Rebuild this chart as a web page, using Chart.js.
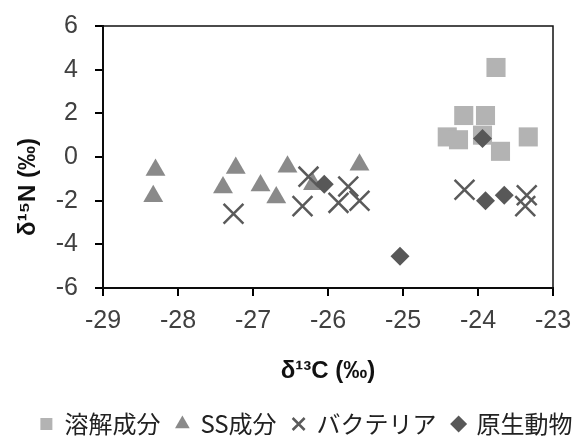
<!DOCTYPE html>
<html>
<head>
<meta charset="utf-8">
<script src="https://cdn.jsdelivr.net/npm/chart.js@4"></script>
<style>
    html, body { margin: 0; padding: 0; background: #fff; }
    #wrap { width: 575px; height: 436px; }
</style>
</head>
<body>
<div id="wrap"><canvas id="chart"></canvas></div>
<script>
// legend labels
const seriesNames = ["溶解成分", "SS成分", "バクテリア", "原生動物"];

// δ13C / δ15N pairs
const dissolvedX = [-23.76, -24.19, -23.90, -24.41, -24.26, -23.94, -23.70, -23.33];
const dissolvedY = [4.1, 1.9, 1.9, 0.92, 0.79, 1.0, 0.26, 0.92];

const ssX = [-28.30, -28.33, -27.23, -27.40, -26.90, -26.69, -26.54, -26.20, -25.58];
const ssY = [-0.6, -1.8, -0.5, -1.4, -1.3, -1.85, -0.45, -1.25, -0.35];

const bacteriaX = [-27.26, -26.26, -26.34, -25.86, -25.73, -25.58, -24.18, -23.35, -23.37];
const bacteriaY = [-2.6, -0.9, -2.25, -2.1, -1.35, -2.0, -1.5, -1.75, -2.25];

const protozoaX = [-26.05, -25.04, -23.94, -23.90, -23.65];
const protozoaY = [-1.25, -4.55, 0.85, -2.0, -1.75];

const xMin = -29, xMax = -23, yMin = -6, yMax = 6;

function pairs(xs, ys) {
    return xs.map((x, i) => ({ x: x, y: ys[i] }));
}

// box round the plot area (top and right edges)
const frame = {
    id: 'frame',
    afterDraw(chart) {
        const a = chart.chartArea;
        const ctx = chart.ctx;
        ctx.save();
        ctx.strokeStyle = '#111';
        ctx.lineWidth = 1.5;
        ctx.strokeRect(a.left, a.top, a.right - a.left, a.bottom - a.top);
        ctx.restore();
    }
};

// move the legend a bit right and down, like the original
const legendShift = {
    id: 'legendShift',
    afterLayout(chart) {
        const lg = chart.legend;
        lg.left += 19;
        lg.right += 19;
        lg.top += 10;
        lg.bottom += 10;
    }
};

const tickFont = { family: "'Liberation Sans', Arial, sans-serif", size: 25 };
const titleFont = { family: "'Liberation Sans', Arial, sans-serif", size: 24, weight: 'bold' };

new Chart(document.getElementById('chart'), {
    type: 'scatter',
    data: {
        datasets: [
            {
                label: seriesNames[0],
                data: pairs(dissolvedX, dissolvedY),
                pointStyle: 'rect',
                pointRadius: 13.5,
                backgroundColor: '#b3b3b3',
                borderColor: '#b3b3b3',
                borderWidth: 0,
                order: 4
            },
            {
                label: seriesNames[1],
                data: pairs(ssX, ssY),
                pointStyle: 'triangle',
                pointRadius: 11.5,
                backgroundColor: '#8a8a8a',
                borderColor: '#8a8a8a',
                borderWidth: 0,
                order: 3
            },
            {
                label: seriesNames[2],
                data: pairs(bacteriaX, bacteriaY),
                pointStyle: 'crossRot',
                pointRadius: 14,
                backgroundColor: '#5a5a5a',
                borderColor: '#5a5a5a',
                borderWidth: 2.5,
                order: 2
            },
            {
                label: seriesNames[3],
                data: pairs(protozoaX, protozoaY),
                pointStyle: 'rectRot',
                pointRadius: 9.5,
                backgroundColor: '#585858',
                borderColor: '#585858',
                borderWidth: 0,
                order: 1
            }
        ]
    },
    options: {
        responsive: true,
        maintainAspectRatio: false,
        animation: false,
        layout: { padding: { top: 26, right: 0, left: 0, bottom: 0 } },
        plugins: {
            tooltip: { enabled: false },
            legend: {
                position: 'bottom',
                labels: {
                    usePointStyle: true,
                    boxWidth: 12,
                    boxHeight: 12,
                    padding: 16,
                    color: '#222',
                    font: { family: "'Noto Sans CJK JP', sans-serif", size: 24 },
                    sort: (a, b) => a.datasetIndex - b.datasetIndex
                }
            }
        },
        scales: {
            x: {
                type: 'linear',
                min: xMin,
                max: xMax,
                afterFit(s) {
                    s.height = 98;
                    s.paddingLeft = 0;
                    s.paddingRight = 22;
                },
                border: { display: true, color: '#000', width: 2 },
                grid: { display: true, drawOnChartArea: false, drawTicks: true, tickLength: 8, color: '#000', lineWidth: 2 },
                ticks: { stepSize: 1, padding: 10, color: '#404040', font: tickFont, maxRotation: 0 },
                title: { display: true, text: 'δ¹³C (‰)', color: '#111', font: titleFont, padding: { top: 0, bottom: 0 } }
            },
            y: {
                type: 'linear',
                min: yMin,
                max: yMax,
                afterFit(s) {
                    s.width = 103;
                    s.paddingTop = 0;
                    s.paddingBottom = 0;
                },
                border: { display: true, color: '#000', width: 2 },
                grid: { display: true, drawOnChartArea: false, drawTicks: true, tickLength: 8, color: '#000', lineWidth: 2 },
                ticks: { stepSize: 2, padding: 17, color: '#404040', font: tickFont },
                // trailing spaces push the title down, as in the original
                title: { display: true, text: 'δ¹⁵N (‰)         ', color: '#111', font: titleFont, padding: { top: 14, bottom: 0 } }
            }
        }
    },
    plugins: [frame, legendShift]
});
</script>
</body>
</html>
